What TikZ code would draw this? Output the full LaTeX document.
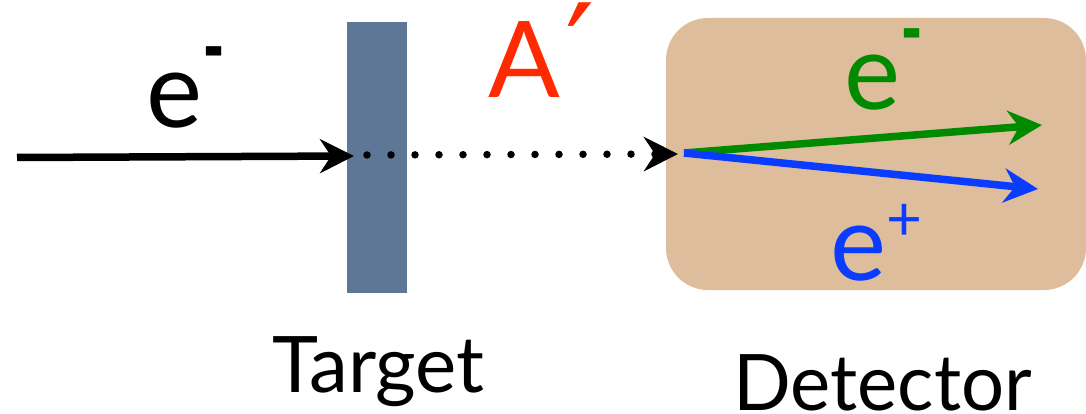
\documentclass[tikz,border=0pt]{standalone}
\usepackage{fontspec}
\setmainfont{Lato}
\newfontfamily\symfont{DejaVu Sans}
\usetikzlibrary{arrows.meta}
\definecolor{targetcol}{HTML}{5E7796}
\definecolor{detcol}{HTML}{DDBD9B}
\definecolor{greencol}{HTML}{008A00}
\definecolor{bluecol}{HTML}{0A3CFF}
\definecolor{redcol}{HTML}{FF2A00}
\newcommand\bigfont{\fontsize{106}{110}\selectfont}
\newcommand\capfont{\fontsize{78}{80}\selectfont}
\newcommand\supminus{{\fontsize{62}{62}\selectfont\raisebox{39pt}{\scalebox{1}[2.0]{-}}}}
\newcommand\supplus{{\fontsize{62}{62}\selectfont\raisebox{40pt}{+}}}
\newcommand\primemark{{\fontsize{130}{130}\symfont\kern6pt\raisebox{0pt}{′}}}
\tikzset{
  ray/.style={line width=7.5pt, -{Stealth[length=34pt,width=34pt,inset=11pt]}},
  dotray/.style={line width=7.5pt, line cap=round, dash pattern=on 0pt off 24pt,
    -{Stealth[length=34pt,width=34pt,inset=11pt,line cap=butt]}},
  lbl/.style={inner sep=0pt, anchor=base west},
}
\begin{document}
\begin{tikzpicture}[x=1pt,y=-1pt]
\useasboundingbox (0,0) rectangle (1086,414);
% target and detector
\node[fill=targetcol, minimum width=60pt, minimum height=271pt, inner sep=0pt] (target) at (377,157.5) {};
\node[fill=detcol, rounded corners=42pt, minimum width=420pt, minimum height=272pt, inner sep=0pt] (detector) at (876,154) {};
% coordinates
\coordinate (in) at (17,157.5);
\coordinate (hit) at (354,156);
\coordinate (dotstart) at (367,155);
\coordinate (dotend) at (678,154);
\coordinate (vertex) at (684,153);
\coordinate (eend) at (1042,125);
\coordinate (pend) at (1038,189);
% connectors
\draw[ray, black] (in) -- (hit);
\draw[dotray, black] (dotstart) -- (dotend);
\draw[ray, greencol] (vertex) -- (eend);
\draw[ray, bluecol] (vertex) -- (pend);
% labels
\node[lbl] (elabel) at (146,128) {\bigfont e\supminus};
\node[lbl, text=redcol] (alabel) at (488,98) {\bigfont A\primemark};
\node[lbl, text=greencol] (eout) at (844,110) {\bigfont e\supminus};
\node[lbl, text=bluecol] (pout) at (830,280) {\bigfont e\supplus};
\node[lbl] (tlabel) at (272,392) {\capfont Target};
\node[lbl] (dlabel) at (733,410) {\capfont\scalebox{0.975}[1]{Detector}};
\end{tikzpicture}
\end{document}
